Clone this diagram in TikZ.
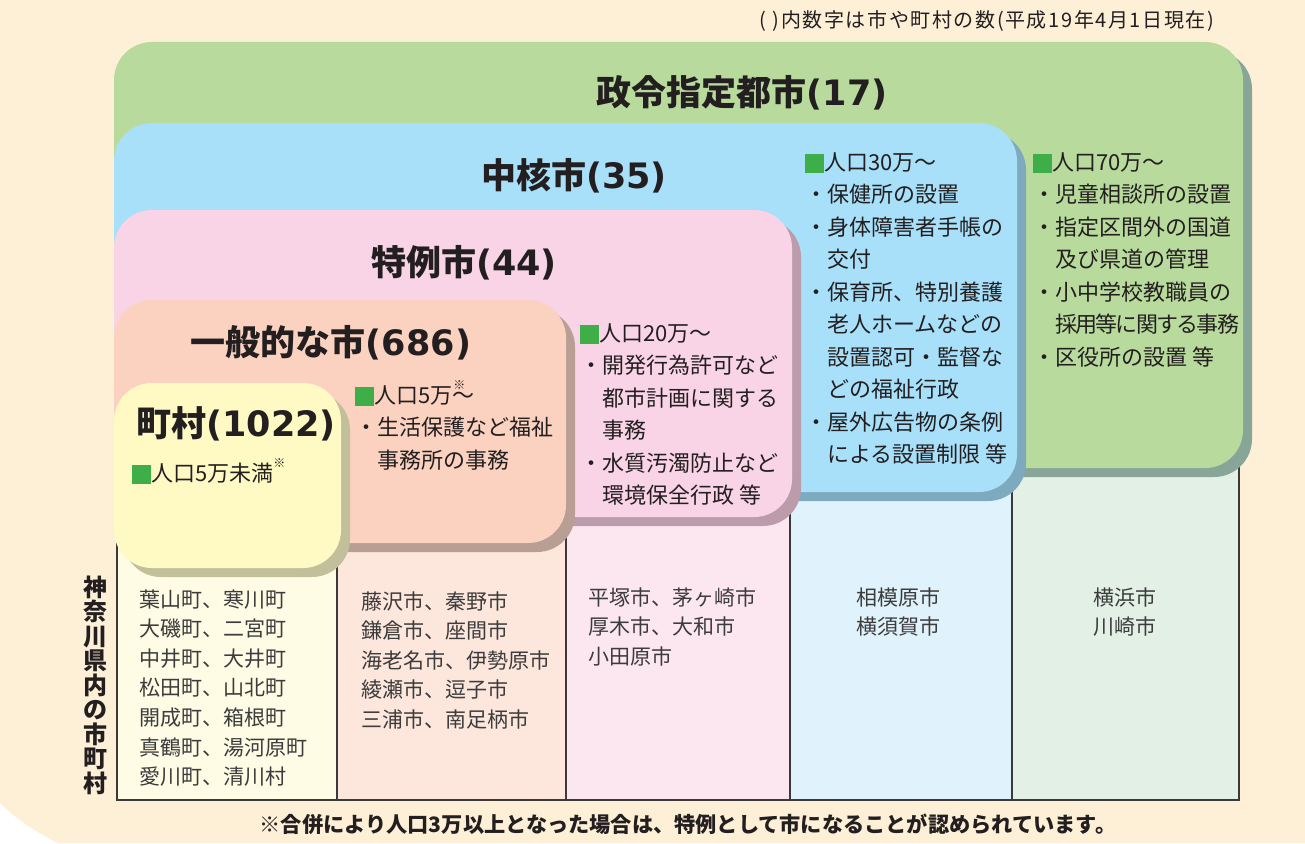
\documentclass[tikz,border=0pt]{standalone}
\usepackage{fontspec}
\newfontfamily\jp{Noto Sans CJK JP}
\newfontfamily\lat{DejaVu Sans}
\definecolor{bgc}{HTML}{FEF0D7}
\definecolor{gfill}{HTML}{B8DA9C}
\definecolor{gshad}{HTML}{87A697}
\definecolor{bfill}{HTML}{A8DFF9}
\definecolor{bshad}{HTML}{7EAABF}
\definecolor{pfill}{HTML}{F9D4E6}
\definecolor{pshad}{HTML}{BC9CAB}
\definecolor{sfill}{HTML}{FBD2C0}
\definecolor{sshad}{HTML}{B99E94}
\definecolor{yfill}{HTML}{FFF9C3}
\definecolor{yshad}{HTML}{C2C09B}
\definecolor{colA}{HTML}{FFFCE6}
\definecolor{colB}{HTML}{FDE7DD}
\definecolor{colC}{HTML}{FCE7F1}
\definecolor{colD}{HTML}{E0F2FC}
\definecolor{colE}{HTML}{E2F0E6}
\definecolor{sqg}{HTML}{3EAE49}
\definecolor{ink}{HTML}{231F20}
\definecolor{cityink}{HTML}{3C3C3C}
\definecolor{linec}{HTML}{3A3A3A}
\newcommand\gsq{\textcolor{sqg}{\rule[-0.14em]{0.86em}{0.88em}}}
\newcommand\kome{\raisebox{0.62em}{\fontsize{12}{12}\selectfont ※}}
\newcommand\ind{\hspace*{1em}}
\tikzset{
  panel/.style={rounded corners=38pt},
  ttl/.style={font=\jp\bfseries\fontsize{35}{40}\selectfont, text=ink, anchor=base, inner sep=0pt},
  body/.style={font=\jp\fontsize{22}{32.5}\selectfont, text=ink, align=left, anchor=base west, inner sep=0pt},
  city/.style={font=\jp\fontsize{21}{29.6}\selectfont, text=cityink, align=left, anchor=base west, inner sep=0pt},
  cityc/.style={font=\jp\fontsize{21}{29.6}\selectfont, text=cityink, align=center, anchor=base, inner sep=0pt},
  tline/.style={draw=linec, line width=1.2pt},
}
\begin{document}
\begin{tikzpicture}[x=1pt,y=-1pt]
\useasboundingbox (0,0) rectangle (1305,843);
\fill[white] (0,0) rectangle (1305,843);
\fill[bgc] (0,0) -- (1305,0) -- (1305,843) -- (58,843) .. controls (36,832) and (16,819) .. (0,803) -- cycle;

% table
\fill[colA] (117,440) rectangle (337,800);
\fill[colB] (337,440) rectangle (566,800);
\fill[colC] (566,440) rectangle (790,800);
\fill[colD] (790,440) rectangle (1012,800);
\fill[colE] (1012,440) rectangle (1239,800);
\draw[tline] (117,440) -- (117,800) -- (1239,800) -- (1239,440);
\foreach \x in {337,566,790,1012} \draw[tline] (\x,440) -- (\x,800);

% panels
\fill[gshad,panel] (123,51) rectangle (1252,477);
\fill[gfill,panel] (114,42) rectangle (1243,468);
\fill[bshad,panel] (123,132) rectangle (1026,501);
\fill[bfill,panel] (114,123) rectangle (1017,492);
\fill[pshad,panel] (123,219) rectangle (801,526);
\fill[pfill,panel] (114,210) rectangle (792,517);
\fill[sshad,panel] (123,309) rectangle (575,552);
\fill[sfill,panel] (114,300) rectangle (566,543);
\fill[yshad,panel] (123,392) rectangle (350,577);
\fill[yfill,panel] (114,383) rectangle (341,568);

% notes
\node[font=\jp\fontsize{20}{24}\selectfont\addfontfeature{LetterSpace=8}, text=ink, anchor=base, inner sep=0pt] (topnote) at (987,27.5) {( )内数字は市や町村の数(平成19年4月1日現在)};
\node[font=\jp\bfseries\fontsize{21.2}{24}\selectfont, text=ink, anchor=base, inner sep=0pt] (botnote) at (688,832) {※合併により人口3万以上となった場合は、特例として市になることが認められています。};
\node[font=\jp\bfseries\fontsize{24}{24.5}\selectfont, text=ink, align=center, anchor=base, inner sep=0pt] (vlabel) at (95,792) {神\\奈\\川\\県\\内\\の\\市\\町\\村};

% titles
\node[ttl] (t1) at (742,105) {政令指定都市{\lat (17)}};
\node[ttl] (t2) at (574,188) {中核市{\lat (35)}};
\node[ttl] (t3) at (464,275) {特例市{\lat (44)}};
\node[ttl] (t4) at (331,355) {一般的な市{\lat (686)}};
\node[ttl] (t5) at (236,436) {町村{\lat (1022)}};

% panel texts (base anchor = baseline of last line)
\node[body] (g1) at (1033,365) {\gsq 人口70万～\\
・児童相談所の設置\\
・指定区間外の国道\\
\ind 及び県道の管理\\
・小中学校教職員の\\
\ind{\addfontfeature{LetterSpace=-8}採用等に関する事務}\\
・区役所の設置 等};
\node[body] (b1) at (805,462.5) {\gsq 人口30万～\\
・保健所の設置\\
・身体障害者手帳の\\
\ind 交付\\
・保育所、特別養護\\
\ind 老人ホームなどの\\
\ind 設置認可・監督な\\
\ind どの福祉行政\\
・屋外広告物の条例\\
\ind による設置制限 等};
\node[body] (p1) at (580,503.5) {\gsq 人口20万～\\
・開発行為許可など\\
\ind 都市計画に関する\\
\ind 事務\\
・水質汚濁防止など\\
\ind 環境保全行政 等};
\node[body] (s1) at (355,468) {\gsq 人口5万\rlap{\kern1pt\kome}～\\
・生活保護など福祉\\
\ind 事務所の事務};
\node[body] (y1) at (132,481) {\gsq 人口5万未満\kome};

% city lists
\node[city] (c1) at (139,784.6) {葉山町、寒川町\\大磯町、二宮町\\中井町、大井町\\松田町、山北町\\開成町、箱根町\\真鶴町、湯河原町\\愛川町、清川村};
\node[city] (c2) at (361,727.4) {藤沢市、秦野市\\鎌倉市、座間市\\海老名市、伊勢原市\\綾瀬市、逗子市\\三浦市、南足柄市};
\node[city] (c3) at (588,664.2) {平塚市、茅ヶ崎市\\厚木市、大和市\\小田原市};
\node[cityc] (c4) at (898,634.6) {相模原市\\横須賀市};
\node[cityc] (c5) at (1125,634.6) {横浜市\\川崎市};
\end{tikzpicture}
\end{document}
